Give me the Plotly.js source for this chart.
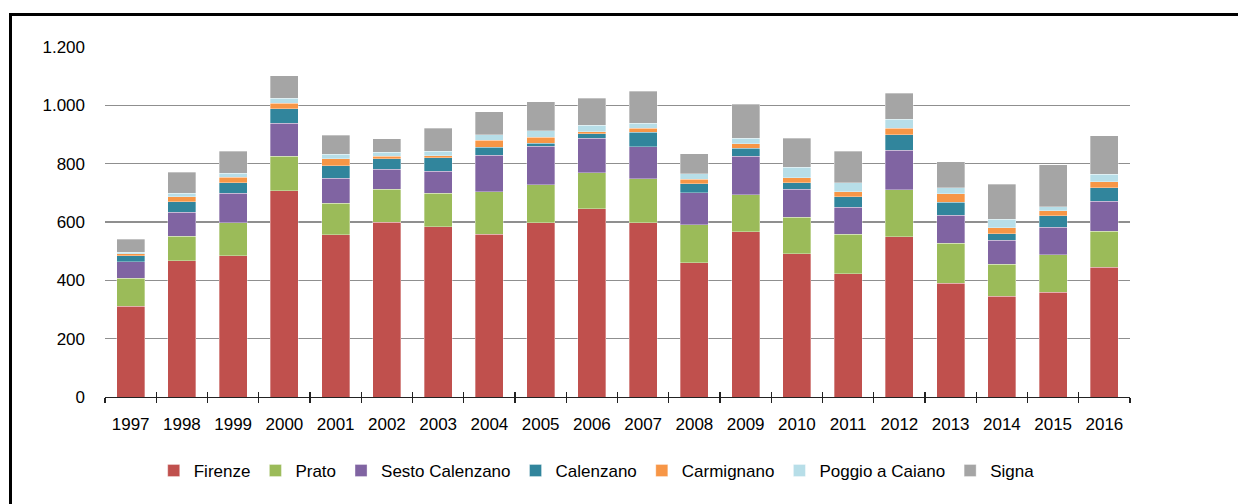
<!DOCTYPE html>
<html>
<head>
<meta charset="utf-8">
<script src="https://cdn.plot.ly/plotly-3.0.1.min.js"></script>
<style>
  html, body { margin: 0; padding: 0; background: #fff; overflow: hidden; }
  #wrap { position: relative; width: 1238px; height: 504px; }
  #chart { position: absolute; left: 0; top: 0; width: 1238px; height: 504px; }
  #frame { position: absolute; left: 9px; top: 13px; width: 1300px; height: 600px;
           border-left: 3px solid #000; border-top: 3px solid #000; pointer-events: none; }
</style>
</head>
<body>
<div id="wrap">
  <div id="chart"></div>
  <div id="frame"></div>
</div>
<script>
// Anni
const years = ['1997','1998','1999','2000','2001','2002','2003','2004','2005','2006',
               '2007','2008','2009','2010','2011','2012','2013','2014','2015','2016'];

// Valori per comune
const firenze    = [312,468,485,707,557,600,584,558,598,646,597,460,567,491,423,550,390,346,360,445];
const prato      = [95,84,112,118,107,112,115,145,130,123,151,131,126,126,135,160,138,110,127,124];
const sesto      = [56,81,101,113,86,69,75,126,131,118,110,109,132,95,92,136,95,81,95,102];
const calenzano  = [22,36,37,50,43,36,46,27,11,15,50,31,28,23,36,53,45,23,40,46];
const carmignano = [7,17,19,20,24,9,7,25,21,7,13,16,15,16,18,23,29,21,16,21];
const poggio     = [5,12,14,17,16,13,15,18,22,23,18,18,20,37,30,30,20,28,14,26];
const signa      = [44,72,75,76,65,46,79,79,100,92,110,69,115,99,109,90,89,120,144,131];

const seriesNames = ['Firenze','Prato','Sesto Calenzano','Calenzano','Carmignano','Poggio a Caiano','Signa'];
const seriesData  = [firenze, prato, sesto, calenzano, carmignano, poggio, signa];
const colors      = ['#C0504D','#9BBB59','#8064A2','#31859C','#F79646','#B7DEE8','#A5A5A5'];

const FONT = 'Liberation Sans, Arial, sans-serif';
const FS = 17;

const traces = seriesNames.map((name, i) => ({
  type: 'bar',
  name: name,
  x: years,
  y: seriesData[i],
  marker: { color: colors[i], line: { color: 'rgba(255,255,255,0.55)', width: 0.6 } },
  hoverinfo: 'skip'
}));

// Asse ausiliario per le tacche interne
traces.push({
  type: 'scatter', x: years, y: years.map(() => null), xaxis: 'x2', yaxis: 'y',
  showlegend: false, hoverinfo: 'skip', mode: 'markers'
});

const layout = {
  width: 1238,
  height: 504,
  paper_bgcolor: '#ffffff',
  plot_bgcolor: '#ffffff',
  barmode: 'stack',
  bargap: 0.45,
  separators: ',.',
  font: { family: FONT, size: FS, color: '#000000' },
  margin: { l: 105, r: 108, t: 47, b: 106.5, pad: 0 },
  showlegend: true,
  legend: {
    orientation: 'h',
    xref: 'container', yref: 'container',
    x: 0.482, xanchor: 'center',
    y: 0.0655, yanchor: 'middle',
    font: { family: FONT, size: FS, color: '#000000' },
    traceorder: 'normal',
    bgcolor: 'rgba(0,0,0,0)'
  },
  xaxis: {
    type: 'category',
    categoryorder: 'array',
    categoryarray: years,
    range: [-0.5, 19.5],
    showgrid: false,
    showline: true,
    linecolor: '#222222',
    linewidth: 1.3,
    ticks: 'outside',
    tickson: 'boundaries',
    ticklen: 5,
    tickwidth: 1.3,
    tickcolor: '#222222',
    tickangle: 0,
    ticklabelstandoff: 11,
    tickfont: { family: FONT, size: FS, color: '#000000' },
    zeroline: false,
    fixedrange: true
  },
  xaxis2: {
    type: 'category',
    categoryorder: 'array',
    categoryarray: years,
    range: [-0.5, 19.5],
    overlaying: 'x',
    anchor: 'y',
    side: 'bottom',
    showgrid: false,
    showline: false,
    ticks: 'inside',
    tickson: 'boundaries',
    tickvals: years,
    ticklen: 5,
    tickwidth: 1.3,
    tickcolor: '#222222',
    showticklabels: false,
    zeroline: false,
    fixedrange: true
  },
  yaxis: {
    range: [0, 1200],
    dtick: 200,
    tick0: 0,
    separatethousands: true,
    showgrid: true,
    gridcolor: '#8f8f8f',
    gridwidth: 1.3,
    showline: false,
    zeroline: false,
    ticks: '',
    ticklabelstandoff: 19,
    tickfont: { family: FONT, size: FS, color: '#000000' },
    fixedrange: true
  }
};

Plotly.newPlot('chart', traces, layout, { staticPlot: true, displayModeBar: false });
</script>
</body>
</html>
